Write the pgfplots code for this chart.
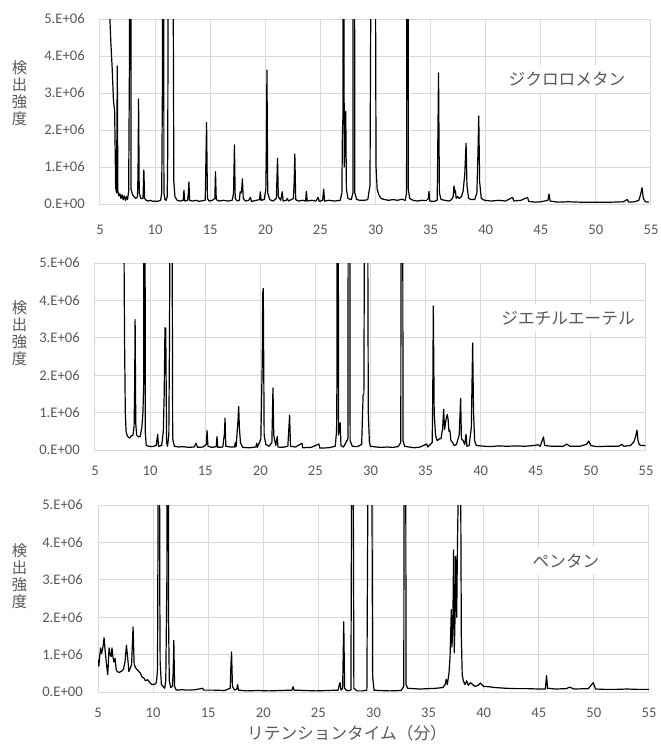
\documentclass[border=0pt]{standalone}
\usepackage{fontspec}
\setmainfont{Carlito}
\newfontfamily\jp{Noto Sans CJK JP}
\usepackage{pgfplots}
\pgfplotsset{compat=1.18}

\definecolor{gridgray}{HTML}{D9D9D9}
\definecolor{tickgray}{HTML}{595959}

\pgfplotsset{
  chrom/.style={
    scale only axis, width=413.25pt, height=140.25pt,
    anchor=south west,
    xmin=5, xmax=55, ymin=0, ymax=5e6,
    xtick={5,10,15,20,25,30,35,40,45,50,55},
    xticklabels={5,10,15,20,25,30,35,40,45,50,55},
    ytick={0,1e6,2e6,3e6,4e6,5e6},
    yticklabels={0.E+00,1.E+06,2.E+06,3.E+06,4.E+06,5.E+06},
    scaled y ticks=false,
    grid=major,
    major grid style={draw=gridgray, line width=0.75pt},
    axis line style={draw=gridgray, line width=0.75pt},
    tick style={draw=none},
    ticklabel style={font=\fontsize{11pt}{13pt}\selectfont, text=tickgray, inner sep=0pt},
    yticklabel style={anchor=east, xshift=-11.25pt},
    xticklabel style={anchor=center, yshift=-15.75pt},
  },
  trace/.style={black, line width=0.9pt, no markers, line join=round},
}

\begin{document}
\begin{tikzpicture}
\useasboundingbox (0,0) rectangle (495.75pt,-560.25pt);

% ---- panel 1: dichloromethane
\begin{axis}[chrom, height=138.75pt, at={(75pt,-153pt)},
  xticklabel style={yshift=-3.5pt}]
\addplot[trace] table {
x y
5.80 2.0e7
5.90 5.0e6
5.98 4.4e6
6.10 3.7e6
6.22 2.8e6
6.33 2.5e6
6.42 0.45e6
6.50 0.30e6
6.57 3.73e6
6.62 0.35e6
6.70 0.22e6
6.80 0.28e6
6.90 0.15e6
7.00 0.25e6
7.10 0.12e6
7.20 0.22e6
7.30 0.10e6
7.40 0.20e6
7.50 0.12e6
7.60 0.35e6
7.68 4.2e6
7.74 3.0e7
7.82 0.4e6
7.95 0.25e6
8.10 0.20e6
8.25 0.15e6
8.40 0.20e6
8.45 0.8e6
8.50 2.84e6
8.56 0.3e6
8.70 0.15e6
8.90 0.15e6
8.98 0.92e6
9.05 0.15e6
9.20 0.10e6
9.40 0.08e6
9.60 0.10e6
9.80 0.07e6
10.00 0.08e6
10.20 0.07e6
10.50 0.10e6
10.60 0.30e6
10.66 3.0e6
10.72 3.0e7
10.80 0.3e6
10.90 0.12e6
11.00 0.10e6
11.10 0.20e6
11.15 1.5e6
11.18 6.0e6
11.40 3.0e7
11.64 6.0e6
11.70 0.6e6
11.80 0.20e6
12.00 0.10e6
12.30 0.08e6
12.55 0.10e6
12.62 0.37e6
12.68 0.08e6
12.95 0.10e6
13.02 0.30e6
13.07 0.60e6
13.13 0.10e6
13.40 0.08e6
13.70 0.10e6
14.00 0.07e6
14.30 0.09e6
14.55 0.10e6
14.67 2.20e6
14.75 0.15e6
14.90 0.08e6
15.20 0.10e6
15.42 0.15e6
15.48 0.87e6
15.55 0.12e6
15.80 0.08e6
16.20 0.10e6
16.60 0.08e6
17.00 0.10e6
17.12 0.30e6
17.20 1.60e6
17.27 0.15e6
17.45 0.08e6
17.65 0.10e6
17.72 0.33e6
17.80 0.30e6
17.85 0.35e6
17.92 0.68e6
18.00 0.15e6
18.20 0.08e6
18.50 0.10e6
18.64 0.18e6
18.75 0.07e6
19.20 0.10e6
19.48 0.12e6
19.55 0.33e6
19.62 0.10e6
19.90 0.12e6
20.05 0.40e6
20.10 1.50e6
20.15 3.62e6
20.22 0.30e6
20.40 0.12e6
20.70 0.08e6
21.00 0.15e6
21.06 0.70e6
21.11 1.24e6
21.18 0.20e6
21.40 0.10e6
21.54 0.33e6
21.62 0.08e6
21.90 0.10e6
22.00 0.15e6
22.10 0.08e6
22.55 0.15e6
22.62 0.60e6
22.68 1.35e6
22.76 0.12e6
23.00 0.08e6
23.40 0.10e6
23.66 0.08e6
23.73 0.34e6
23.80 0.08e6
24.20 0.10e6
24.60 0.08e6
24.79 0.18e6
24.90 0.07e6
25.20 0.10e6
25.30 0.40e6
25.38 0.08e6
25.80 0.10e6
26.30 0.08e6
26.80 0.10e6
26.95 0.30e6
27.00 2.0e6
27.04 2.3e6
27.08 3.0e7
27.16 1.0e6
27.24 1.5e6
27.30 2.50e6
27.36 0.40e6
27.50 0.15e6
27.80 0.12e6
27.95 0.30e6
28.04 3.0e7
28.12 0.30e6
28.30 0.12e6
28.60 0.10e6
29.00 0.10e6
29.30 0.12e6
29.50 0.50e6
29.58 6.0e6
29.80 3.0e7
30.00 6.0e6
30.05 1.0e6
30.15 0.40e6
30.30 0.25e6
30.50 0.15e6
30.80 0.12e6
31.20 0.10e6
31.60 0.12e6
32.00 0.10e6
32.40 0.13e6
32.70 0.10e6
32.82 0.30e6
32.90 3.0e7
32.98 0.40e6
33.10 0.15e6
33.40 0.10e6
33.80 0.08e6
34.20 0.10e6
34.60 0.09e6
34.80 0.15e6
34.85 0.34e6
34.92 0.08e6
35.30 0.07e6
35.60 0.10e6
35.66 1.8e6
35.72 3.54e6
35.80 0.30e6
35.95 0.12e6
36.30 0.10e6
36.70 0.08e6
36.90 0.12e6
37.05 0.20e6
37.12 0.49e6
37.20 0.30e6
37.25 0.37e6
37.32 0.15e6
37.45 0.20e6
37.60 0.15e6
37.80 0.20e6
37.95 0.35e6
38.10 0.80e6
38.22 1.64e6
38.30 0.50e6
38.45 0.15e6
38.70 0.12e6
39.00 0.12e6
39.20 0.30e6
39.30 1.40e6
39.37 2.38e6
39.45 0.60e6
39.60 0.15e6
39.90 0.10e6
40.50 0.08e6
41.20 0.10e6
41.80 0.08e6
42.44 0.18e6
42.55 0.08e6
43.20 0.10e6
43.80 0.18e6
43.90 0.07e6
44.50 0.05e6
45.00 0.06e6
45.65 0.10e6
45.75 0.27e6
45.85 0.08e6
46.50 0.05e6
47.50 0.06e6
48.50 0.05e6
49.50 0.05e6
50.50 0.05e6
51.50 0.05e6
52.50 0.06e6
52.83 0.12e6
53.00 0.05e6
53.50 0.06e6
53.90 0.10e6
54.05 0.25e6
54.19 0.44e6
54.30 0.15e6
54.50 0.06e6
54.80 0.05e6
};
\end{axis}

% ---- panel 2: diethyl ether
\begin{axis}[chrom, at={(71.25pt,-337.5pt)}]
\addplot[trace] table {
x y
7.50 3.0e7
7.62 6.0e6
7.68 3.0e6
7.75 1.0e6
7.82 0.50e6
7.90 0.40e6
8.00 0.35e6
8.15 0.32e6
8.30 0.38e6
8.45 0.40e6
8.55 0.65e6
8.60 1.70e6
8.64 3.49e6
8.70 0.70e6
8.78 0.40e6
8.95 0.35e6
9.10 0.36e6
9.25 0.60e6
9.35 1.0e6
9.42 1.8e6
9.49 3.0e7
9.56 0.5e6
9.65 0.12e6
9.90 0.10e6
10.20 0.09e6
10.55 0.12e6
10.69 0.42e6
10.76 0.10e6
11.05 0.12e6
11.20 0.50e6
11.28 1.5e6
11.35 3.27e6
11.42 3.25e6
11.50 0.20e6
11.58 0.10e6
11.70 0.4e6
11.76 3.0e6
11.80 6.0e6
11.90 3.0e7
12.00 6.0e6
12.05 0.3e6
12.20 0.10e6
12.60 0.08e6
13.00 0.09e6
13.50 0.07e6
14.00 0.08e6
14.17 0.18e6
14.30 0.07e6
14.80 0.08e6
15.10 0.15e6
15.17 0.52e6
15.25 0.10e6
15.60 0.07e6
16.00 0.09e6
16.07 0.36e6
16.14 0.07e6
16.60 0.08e6
16.75 0.45e6
16.80 0.85e6
16.87 0.10e6
17.30 0.08e6
17.66 0.08e6
17.73 0.20e6
17.80 0.08e6
17.98 0.80e6
18.04 1.16e6
18.10 0.60e6
18.20 0.20e6
18.40 0.07e6
19.00 0.06e6
19.60 0.08e6
19.67 0.18e6
19.74 0.07e6
20.05 0.30e6
20.18 2.40e6
20.22 4.20e6
20.27 4.32e6
20.35 0.40e6
20.50 0.15e6
20.80 0.10e6
21.05 0.20e6
21.15 1.66e6
21.22 0.40e6
21.40 0.12e6
21.54 0.36e6
21.60 0.08e6
22.00 0.07e6
22.50 0.10e6
22.66 0.93e6
22.74 0.10e6
23.20 0.08e6
23.78 0.18e6
23.85 0.06e6
24.60 0.07e6
25.32 0.16e6
25.40 0.05e6
26.20 0.06e6
26.80 0.10e6
26.92 0.50e6
26.96 2.0e6
27.00 3.0e7
27.10 0.40e6
27.25 0.73e6
27.32 0.12e6
27.55 0.08e6
27.95 0.30e6
28.07 3.0e7
28.15 0.25e6
28.35 0.10e6
28.80 0.09e6
29.20 0.15e6
29.28 1.00e6
29.33 1.47e6
29.40 1.5e6
29.45 6.0e6
29.60 3.0e7
29.75 6.0e6
29.80 1.0e6
29.90 0.20e6
30.00 0.10e6
30.50 0.08e6
31.00 0.07e6
31.50 0.08e6
32.00 0.07e6
32.50 0.09e6
32.75 0.20e6
32.85 3.0e7
32.95 0.25e6
33.10 0.10e6
33.50 0.08e6
34.00 0.06e6
34.50 0.08e6
35.10 0.16e6
35.20 0.08e6
35.60 0.20e6
35.65 1.5e6
35.70 3.85e6
35.78 1.00e6
35.90 0.40e6
36.05 0.25e6
36.30 0.31e6
36.40 0.30e6
36.55 0.60e6
36.64 1.09e6
36.72 0.55e6
36.80 0.70e6
36.88 0.85e6
36.97 0.95e6
37.05 0.80e6
37.12 0.50e6
37.20 0.53e6
37.30 0.25e6
37.45 0.20e6
37.60 0.12e6
37.80 0.15e6
38.05 0.40e6
38.18 1.38e6
38.25 0.30e6
38.40 0.25e6
38.55 0.15e6
38.67 0.42e6
38.75 0.10e6
38.95 0.12e6
39.15 0.60e6
39.27 2.86e6
39.35 1.00e6
39.45 0.25e6
39.60 0.12e6
40.00 0.11e6
40.80 0.09e6
41.60 0.11e6
42.40 0.10e6
43.20 0.11e6
44.00 0.10e6
44.80 0.12e6
45.20 0.14e6
45.40 0.10e6
45.70 0.35e6
45.80 0.12e6
46.50 0.10e6
47.50 0.10e6
47.80 0.16e6
48.10 0.10e6
49.00 0.10e6
49.60 0.15e6
49.80 0.24e6
50.00 0.12e6
50.50 0.09e6
51.50 0.10e6
52.50 0.10e6
52.80 0.15e6
53.00 0.10e6
53.60 0.12e6
53.90 0.22e6
54.05 0.35e6
54.18 0.53e6
54.28 0.25e6
54.40 0.14e6
54.60 0.12e6
54.94 0.12e6
};
\end{axis}

% ---- panel 3: pentane
\begin{axis}[chrom, at={(73.5pt,-519pt)}]
\addplot[trace] table {
x y
5.00 0.87e6
5.08 0.69e6
5.15 0.95e6
5.24 1.18e6
5.33 1.03e6
5.45 1.20e6
5.55 1.45e6
5.65 1.10e6
5.75 0.80e6
5.88 0.47e6
5.95 0.80e6
6.00 1.18e6
6.10 1.00e6
6.20 0.95e6
6.27 1.18e6
6.35 0.95e6
6.45 0.80e6
6.55 0.90e6
6.65 0.60e6
6.75 0.55e6
6.90 0.52e6
7.10 0.55e6
7.30 0.60e6
7.45 0.80e6
7.58 1.25e6
7.70 0.90e6
7.80 0.55e6
7.95 0.65e6
8.05 0.75e6
8.18 1.74e6
8.28 0.75e6
8.40 0.65e6
8.55 0.60e6
8.70 0.55e6
8.85 0.50e6
9.00 0.40e6
9.15 0.38e6
9.30 0.30e6
9.50 0.33e6
9.70 0.25e6
9.90 0.20e6
10.10 0.20e6
10.30 0.25e6
10.40 0.60e6
10.46 5.5e6
10.52 3.0e7
10.60 3.0e6
10.64 0.8e6
10.75 0.20e6
10.90 0.15e6
11.05 0.10e6
11.15 0.30e6
11.25 3.0e6
11.33 3.0e7
11.40 2.0e6
11.47 0.30e6
11.60 0.12e6
11.75 0.15e6
11.82 0.50e6
11.88 1.38e6
11.95 0.15e6
12.10 0.05e6
12.60 0.06e6
13.20 0.05e6
13.80 0.06e6
14.50 0.10e6
14.60 0.05e6
15.50 0.05e6
16.50 0.04e6
17.00 0.10e6
17.06 0.70e6
17.12 1.07e6
17.20 0.15e6
17.40 0.05e6
17.60 0.08e6
17.67 0.20e6
17.75 0.05e6
18.50 0.03e6
19.50 0.04e6
20.50 0.03e6
21.50 0.04e6
22.60 0.05e6
22.70 0.14e6
22.80 0.05e6
23.80 0.04e6
24.80 0.03e6
25.80 0.04e6
26.80 0.05e6
26.90 0.20e6
26.97 0.25e6
27.05 0.05e6
27.20 0.10e6
27.30 1.88e6
27.38 0.10e6
27.60 0.03e6
27.95 0.05e6
28.02 6.0e6
28.09 3.0e7
28.16 6.0e6
28.22 0.10e6
28.50 0.03e6
29.00 0.03e6
29.40 0.05e6
29.50 6.0e6
29.68 3.0e7
29.85 6.0e6
29.92 0.40e6
30.05 0.05e6
30.50 0.04e6
31.50 0.03e6
32.50 0.04e6
32.75 0.15e6
32.85 3.0e7
32.95 0.20e6
33.10 0.10e6
33.60 0.09e6
34.20 0.08e6
35.00 0.09e6
35.70 0.10e6
36.30 0.12e6
36.50 0.20e6
36.60 0.34e6
36.70 0.20e6
36.85 0.50e6
36.95 0.96e6
37.06 2.20e6
37.12 1.20e6
37.20 1.80e6
37.27 3.80e6
37.33 1.05e6
37.40 2.0e6
37.45 3.62e6
37.55 2.00e6
37.62 3.98e6
37.70 5.5e6
37.82 3.0e7
37.92 5.0e6
37.97 1.50e6
38.05 0.47e6
38.15 0.30e6
38.30 0.20e6
38.45 0.30e6
38.60 0.18e6
38.80 0.25e6
39.00 0.20e6
39.20 0.15e6
39.50 0.18e6
39.70 0.24e6
40.00 0.15e6
40.50 0.14e6
41.00 0.12e6
42.00 0.10e6
43.00 0.09e6
44.00 0.09e6
45.00 0.08e6
45.60 0.08e6
45.70 0.44e6
45.80 0.10e6
46.50 0.08e6
47.50 0.09e6
47.80 0.13e6
48.20 0.08e6
49.50 0.09e6
49.80 0.20e6
49.94 0.25e6
50.15 0.08e6
51.00 0.07e6
52.00 0.07e6
53.00 0.08e6
54.00 0.07e6
55.00 0.07e6
};
\end{axis}

% ---- texts
\tikzset{ylab/.style={align=center, text=tickgray, inner sep=0pt,
  font=\jp\fontsize{11.5pt}{12.8pt}\selectfont},
  tag/.style={fill=white, text=tickgray, inner sep=5pt,
  font=\jp\fontsize{12.5pt}{14pt}\selectfont}}
\node[ylab] at (14.6pt,-69.75pt) {検\\出\\強\\度};
\node[ylab] at (14.6pt,-249.75pt) {検\\出\\強\\度};
\node[ylab] at (14.6pt,-432pt) {検\\出\\強\\度};
\node[tag] at (425.25pt,-59.25pt) {ジクロロメタン};
\node[tag] at (426pt,-238.5pt) {ジエチルエーテル};
\node[tag] at (424.5pt,-420.75pt) {ペンタン};
\node[text=tickgray, inner sep=0pt, font=\jp\fontsize{12.5pt}{14pt}\selectfont]
  at (260.25pt,-549.5pt) {リテンションタイム（分）};
\end{tikzpicture}
\end{document}
